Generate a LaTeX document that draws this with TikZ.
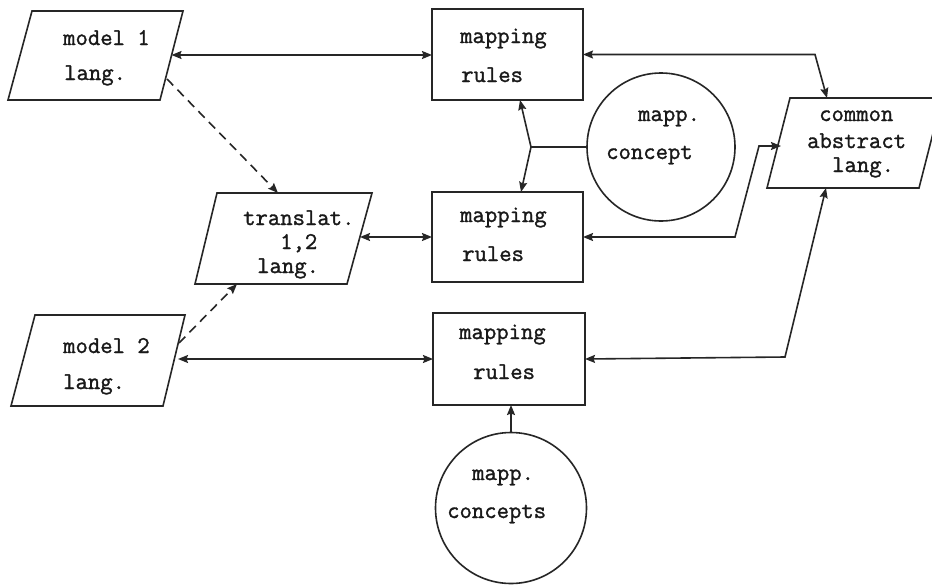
\documentclass[tikz,border=0pt]{standalone}
\usepackage{fontspec}
\newfontfamily\courfont{Latin Modern Mono}[FakeBold=1.3]
\usetikzlibrary{arrows.meta,calc}
\begin{document}
\begin{tikzpicture}[x=1pt,y=-1pt,
  ln/.style={line width=1.6pt,draw=black!85},
  arr/.style={ln,-{Stealth[length=10pt,width=8pt,inset=1.5pt]}},
  darr/.style={ln,{Stealth[length=10pt,width=8pt,inset=1.5pt]}-{Stealth[length=10pt,width=8pt,inset=1.5pt]}},
  dsh/.style={arr,dash pattern=on 9pt off 6pt},
  txt/.style={anchor=base west,inner sep=0pt,font=\courfont\fontsize{24}{28}\selectfont,text=black!90},
  boxn/.style={draw=black!85,line width=1.6pt,rectangle,inner sep=0pt,outer sep=0pt},
  circn/.style={draw=black!85,line width=1.6pt,circle,inner sep=0pt,outer sep=0pt}]
\useasboundingbox (0,0) rectangle (932,584);
\clip (0,0) rectangle (932,584);
\fill[white] (0,0) rectangle (932,584);

% parallelograms
\draw[ln,line join=miter] (32,11) -- (183,11) -- (160,100) -- (8,100) -- cycle;
\draw[ln,line join=miter] (217,193) -- (372,193) -- (347,284) -- (195,284) -- cycle;
\draw[ln,line join=miter] (35,315) -- (185,315) -- (163,406) -- (11,406) -- cycle;
\draw[ln,line join=miter] (790,98) -- (942,98) -- (919,188) -- (767,188) -- cycle;

% boxes and circles
\node[boxn,minimum width=151pt,minimum height=91pt] (map1) at (507.5,54.5) {};
\node[boxn,minimum width=151pt,minimum height=90pt] (map2) at (507.5,237) {};
\node[boxn,minimum width=152pt,minimum height=92pt] (map3) at (509,359) {};
\node[circn,minimum size=148pt] (cc) at (661,147) {};
\node[circn,minimum size=151pt] (cc2) at (511,508) {};

% texts
\node[txt] (m1a) at (63,45) {model 1};
\node[txt] (m1b) at (64,80) {lang.};
\node[txt] (m2a) at (63,353) {model 2};
\node[txt] (m2b) at (63,389) {lang.};
\node[txt] (tra) at (243,225) {translat.};
\node[txt] (trb) at (280,249) {1,2};
\node[txt] (trc) at (257,273) {lang.};
\node[txt] (r1a) at (460,43) {mapping};
\node[txt] (r1b) at (461,82) {rules};
\node[txt] (r2a) at (460,222) {mapping};
\node[txt] (r2b) at (462,261) {rules};
\node[txt] (r3a) at (459,339) {mapping};
\node[txt] (r3b) at (473,379) {rules};
\node[txt] (ca) at (638,121) {mapp.};
\node[txt] (cb) at (606,159) {concept};
\node[txt] (da) at (472,480) {mapp.};
\node[txt] (db) at (447,518) {concepts};
\node[txt] (ea) at (819,121) {common};
\node[txt] (eb) at (807,148) {abstract};
\node[txt] (ec) at (832,172) {lang.};

% connection points on parallelograms
\coordinate (m1r) at (171.5,55);
\coordinate (m1d) at (167,79);
\coordinate (m2r) at (178,359);
\coordinate (m2u) at (179,343);
\coordinate (trr) at (360,237);
\coordinate (trt) at (278,193);
\coordinate (trbt) at (237,284);
\coordinate (ct) at (827,98);
\coordinate (cl) at (781,146);
\coordinate (cbm) at (826,188);
\coordinate (j) at (531,147);
\coordinate (t1) at (520,100);
\coordinate (t2) at (521,192);

% connectors
\draw[darr] (m1r) -- (map1.west |- m1r);
\draw[dsh] (m1d) -- (trt);
\draw[darr] (trr) -- (map2.west);
\draw[dsh] (m2u) -- (trbt);
\draw[darr] (m2r) -- (map3.west);
\draw[darr] (map1.east) -- (815,54.5) -- (ct);
\draw[darr] (map2.east) -- (735,237) -- (759,146) -- (cl);
\draw[darr] (map3.east) -- (785,357) -- (cbm);
\draw[ln] (cc.west) -- (j);
\draw[arr] (j) -- (t1);
\draw[arr] (j) -- (t2);
\draw[arr] (cc2.north) -- (cc2.north |- map3.south);
\end{tikzpicture}
\end{document}
